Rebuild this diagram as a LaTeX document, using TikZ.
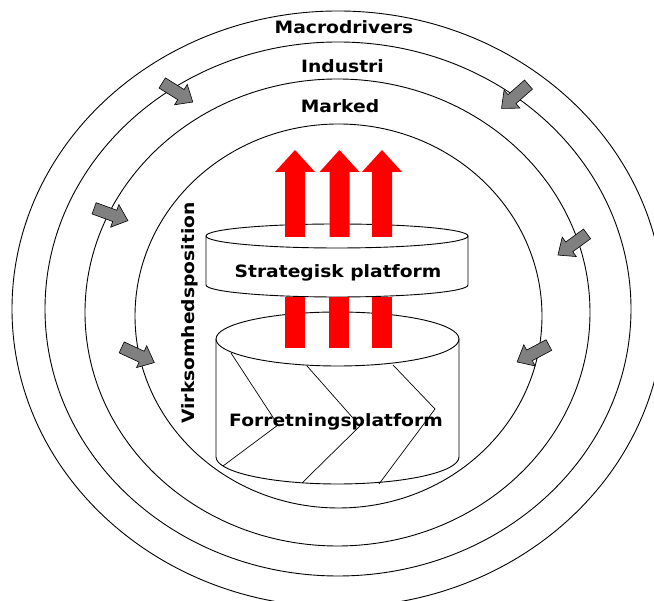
\documentclass[tikz,border=0pt]{standalone}
\usepackage{fontspec}
\setmainfont{DejaVu Sans}[FakeStretch=1.1]
\newcommand{\grayarrow}[3]{\draw[grayarr, shift={(#1,#2)}, rotate=#3] (-18,-6)--(4,-6)--(4,-12)--(18,0)--(4,12)--(4,6)--(-18,6)--cycle;}
\begin{document}
\begin{tikzpicture}[x=1pt,y=1pt,
 ring/.style={draw=black, line width=0.9pt},
 cyl/.style={draw=black, line width=0.9pt, fill=white},
 redarr/.style={fill=red, draw=none},
 grayarr/.style={fill=gray, draw=black, line width=0.6pt, line join=miter},
 lbl/.style={font=\bfseries\fontsize{17}{20}\selectfont, inner sep=0pt, anchor=base},
 chev/.style={draw=black, line width=0.7pt}]
\useasboundingbox (0,0) rectangle (654,601);
\clip (0,0) rectangle (654,601);
\fill[white] (0,0) rectangle (654,601);
% rings
\draw[ring] (338,292) ellipse [x radius=326pt, y radius=298pt];
\draw[ring] (338,292) ellipse [x radius=293pt, y radius=267pt];
\draw[ring] (337.5,288.5) ellipse [x radius=252.5pt, y radius=233.5pt];
\draw[ring] (338.5,285) ellipse [x radius=203.5pt, y radius=192pt];
% business cylinder
\draw[cyl] (216,262) -- (216,144) arc[start angle=180, end angle=360, x radius=121.5pt, y radius=27pt] -- (459,262) arc[start angle=0, end angle=180, x radius=121.5pt, y radius=27pt] -- cycle;
\draw[ring] (216,262) arc[start angle=180, end angle=360, x radius=121.5pt, y radius=27pt];
% chevrons
\draw[chev] (231,248) -- (278,176) -- (223,135);
\draw[chev] (307,235) -- (360,175) -- (302,118);
\draw[chev] (393,236) -- (435,192) -- (379,117);
% strategic cylinder
\draw[cyl] (206,365) -- (206,316) arc[start angle=180, end angle=360, x radius=131pt, y radius=12pt] -- (468,365) arc[start angle=0, end angle=180, x radius=131pt, y radius=12pt] -- cycle;
\draw[ring] (206,365) arc[start angle=180, end angle=360, x radius=131pt, y radius=12pt];
% red arrows
\fill[redarr] (285,364)--(285,429)--(275,429)--(295,451)--(315,429)--(305,429)--(305,364)--cycle;
\fill[redarr] (329.5,364)--(329.5,429)--(319.5,429)--(339.5,451)--(359.5,429)--(349.5,429)--(349.5,364)--cycle;
\fill[redarr] (372,364)--(372,429)--(362,429)--(382,451)--(402,429)--(392,429)--(392,364)--cycle;
\fill[redarr] (285,253) rectangle (305,304);
\fill[redarr] (329,253) rectangle (349,304);
\fill[redarr] (372,253) rectangle (392,304);
% labels
\node[lbl] (macro) at (344,567) {Macrodrivers};
\node[lbl] (ind) at (342.5,528) {Industri};
\node[lbl] (mark) at (340,488) {Marked};
\node[lbl] (strat) at (338,323) {Strategisk platform};
\node[lbl] (forr) at (336,174) {Forretningsplatform};
\node[lbl, rotate=90] (virk) at (194,288) {Virksomhedsposition};
% gray arrows
\grayarrow{515}{504.5}{221.5}
\grayarrow{572.5}{356.5}{216}
\grayarrow{533}{247.5}{208}
\grayarrow{177.5}{508.5}{-32}
\grayarrow{111}{386.5}{-20}
\grayarrow{138}{246}{-25}
\end{tikzpicture}
\end{document}
